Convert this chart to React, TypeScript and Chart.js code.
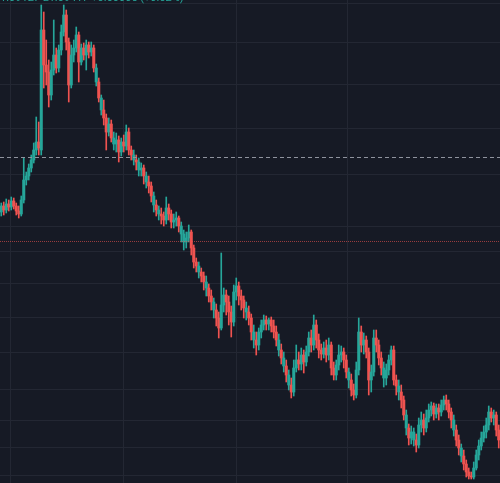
import React, { useEffect, useRef } from "react";
import { Chart, registerables } from "chart.js";

Chart.register(...registerables);

// OHLC candles (one per bar)
const opens = [
  1.0988,1.0994,1.0990,1.0996,1.0993,1.0999,1.0994,1.0989,1.0986,1.1000,
  1.1020,1.1024,1.1032,1.1040,1.1050,1.1058,1.1050,1.1170,1.1135,1.1128,
  1.1105,1.1130,1.1145,1.1132,1.1150,1.1168,1.1185,1.1158,1.1115,1.1145,
  1.1152,1.1165,1.1138,1.1152,1.1145,1.1155,1.1148,1.1152,1.1118,1.1118,
  1.1090,1.1090,1.1082,1.1068,1.1076,1.1056,1.1056,1.1060,1.1048,1.1058,
  1.1054,1.1068,1.1050,1.1040,1.1040,1.1030,1.1030,1.1032,1.1018,1.1018,
  1.1014,1.0995,1.0995,1.0986,1.0986,1.0984,1.0980,1.0992,1.0986,1.0978,
  1.0980,1.0982,1.0966,1.0958,1.0958,1.0962,1.0968,1.0952,1.0938,1.0928,
  1.0928,1.0924,1.0912,1.0912,1.0904,1.0890,1.0890,1.0882,1.0872,1.0895,
  1.0905,1.0898,1.0888,1.0878,1.0908,1.0914,1.0904,1.0900,1.0888,1.0888,
  1.0882,1.0860,1.0860,1.0855,1.0868,1.0875,1.0880,1.0876,1.0880,1.0874,
  1.0868,1.0850,1.0850,1.0834,1.0834,1.0815,1.0815,1.0808,1.0832,1.0840,
  1.0836,1.0845,1.0838,1.0848,1.0862,1.0855,1.0875,1.0860,1.0850,1.0846,
  1.0852,1.0845,1.0855,1.0832,1.0825,1.0835,1.0845,1.0848,1.0840,1.0820,
  1.0820,1.0810,1.0805,1.0830,1.0868,1.0855,1.0860,1.0848,1.0820,1.0828,
  1.0862,1.0855,1.0842,1.0822,1.0822,1.0830,1.0840,1.0850,1.0820,1.0808,
  1.0808,1.0800,1.0772,1.0772,1.0762,1.0760,1.0760,1.0755,1.0775,1.0780,
  1.0772,1.0782,1.0790,1.0794,1.0786,1.0792,1.0788,1.0795,1.0800,1.0796,
  1.0788,1.0770,1.0770,1.0760,1.0744,1.0744,1.0736,1.0728,1.0724,1.0723,
  1.0732,1.0745,1.0754,1.0762,1.0768,1.0775,1.0788,1.0782,1.0785,1.0770,
];

const highs = [
  1.0997,1.0998,1.1001,1.1000,1.1003,1.1002,1.0997,1.0994,1.1004,1.1042,
  1.1028,1.1036,1.1045,1.1057,1.1083,1.1078,1.1195,1.1188,1.1160,1.1140,
  1.1138,1.1180,1.1152,1.1155,1.1175,1.1195,1.1190,1.1162,1.1155,1.1160,
  1.1173,1.1168,1.1156,1.1157,1.1160,1.1158,1.1158,1.1155,1.1136,1.1122,
  1.1105,1.1100,1.1086,1.1082,1.1080,1.1068,1.1067,1.1064,1.1062,1.1065,
  1.1075,1.1072,1.1054,1.1050,1.1045,1.1042,1.1037,1.1035,1.1028,1.1024,
  1.1018,1.1008,1.1000,1.0994,1.0992,1.0988,1.1003,1.0996,1.0990,1.0986,
  1.0988,1.0984,1.0978,1.0970,1.0968,1.0975,1.0970,1.0955,1.0942,1.0938,
  1.0932,1.0928,1.0924,1.0916,1.0910,1.0902,1.0896,1.0888,1.0947,1.0912,
  1.0910,1.0904,1.0894,1.0915,1.0922,1.0918,1.0910,1.0904,1.0898,1.0894,
  1.0886,1.0875,1.0868,1.0872,1.0880,1.0885,1.0884,1.0882,1.0883,1.0880,
  1.0874,1.0866,1.0856,1.0848,1.0840,1.0830,1.0822,1.0840,1.0855,1.0848,
  1.0852,1.0850,1.0854,1.0868,1.0870,1.0885,1.0880,1.0866,1.0856,1.0858,
  1.0860,1.0862,1.0858,1.0838,1.0840,1.0855,1.0854,1.0852,1.0845,1.0832,
  1.0826,1.0816,1.0838,1.0882,1.0874,1.0867,1.0864,1.0852,1.0835,1.0870,
  1.0870,1.0860,1.0848,1.0838,1.0836,1.0845,1.0854,1.0854,1.0825,1.0820,
  1.0815,1.0804,1.0790,1.0776,1.0774,1.0772,1.0766,1.0782,1.0788,1.0786,
  1.0790,1.0796,1.0798,1.0797,1.0796,1.0796,1.0800,1.0804,1.0805,1.0800,
  1.0792,1.0785,1.0775,1.0765,1.0756,1.0750,1.0740,1.0732,1.0728,1.0738,
  1.0750,1.0760,1.0768,1.0774,1.0782,1.0794,1.0792,1.0790,1.0788,1.0775,
];

const lows = [
  1.0984,1.0985,1.0987,1.0989,1.0990,1.0991,1.0985,1.0982,1.0984,1.0997,
  1.1015,1.1020,1.1028,1.1037,1.1045,1.1045,1.1045,1.1112,1.1115,1.1093,
  1.1100,1.1125,1.1127,1.1128,1.1145,1.1164,1.1150,1.1098,1.1112,1.1138,
  1.1148,1.1118,1.1135,1.1140,1.1130,1.1142,1.1144,1.1128,1.1114,1.1098,
  1.1085,1.1075,1.1050,1.1064,1.1058,1.1050,1.1048,1.1038,1.1044,1.1048,
  1.1050,1.1045,1.1040,1.1035,1.1030,1.1024,1.1024,1.1016,1.1012,1.1007,
  1.0998,1.0988,1.0984,1.0980,1.0976,1.0974,1.0976,1.0980,1.0972,1.0972,
  1.0974,1.0968,1.0958,1.0950,1.0952,1.0958,1.0945,1.0932,1.0928,1.0922,
  1.0918,1.0910,1.0904,1.0898,1.0890,1.0882,1.0874,1.0862,1.0870,1.0888,
  1.0885,1.0875,1.0863,1.0874,1.0900,1.0895,1.0890,1.0882,1.0880,1.0875,
  1.0860,1.0852,1.0845,1.0850,1.0862,1.0870,1.0870,1.0870,1.0868,1.0862,
  1.0854,1.0844,1.0836,1.0828,1.0818,1.0810,1.0802,1.0804,1.0828,1.0830,
  1.0830,1.0827,1.0834,1.0844,1.0848,1.0850,1.0852,1.0842,1.0840,1.0842,
  1.0838,1.0840,1.0825,1.0820,1.0820,1.0830,1.0838,1.0832,1.0822,1.0812,
  1.0804,1.0800,1.0802,1.0825,1.0848,1.0846,1.0842,1.0805,1.0808,1.0824,
  1.0848,1.0835,1.0825,1.0813,1.0815,1.0825,1.0835,1.0815,1.0805,1.0800,
  1.0792,1.0780,1.0765,1.0755,1.0756,1.0754,1.0748,1.0752,1.0768,1.0765,
  1.0768,1.0778,1.0784,1.0780,1.0782,1.0780,1.0784,1.0790,1.0790,1.0782,
  1.0772,1.0764,1.0754,1.0745,1.0738,1.0730,1.0723,1.0721,1.0721,1.0721,
  1.0730,1.0740,1.0750,1.0758,1.0762,1.0770,1.0778,1.0775,1.0764,1.0752,
];

const closes = [
  1.0994,1.0990,1.0996,1.0993,1.0999,1.0994,1.0989,1.0986,1.1000,1.1020,
  1.1024,1.1032,1.1040,1.1050,1.1058,1.1052,1.1170,1.1135,1.1128,1.1105,
  1.1130,1.1145,1.1132,1.1150,1.1168,1.1185,1.1158,1.1115,1.1145,1.1152,
  1.1165,1.1138,1.1152,1.1145,1.1155,1.1148,1.1152,1.1132,1.1132,1.1102,
  1.1102,1.1082,1.1068,1.1076,1.1062,1.1062,1.1060,1.1048,1.1058,1.1054,
  1.1068,1.1050,1.1045,1.1045,1.1038,1.1038,1.1032,1.1024,1.1024,1.1014,
  1.1004,1.1004,1.0990,1.0990,1.0984,1.0980,1.0992,1.0986,1.0978,1.0980,
  1.0982,1.0974,1.0974,1.0966,1.0962,1.0968,1.0952,1.0938,1.0934,1.0934,
  1.0924,1.0918,1.0918,1.0904,1.0898,1.0898,1.0882,1.0872,1.0895,1.0905,
  1.0898,1.0888,1.0878,1.0908,1.0914,1.0904,1.0900,1.0892,1.0892,1.0882,
  1.0868,1.0868,1.0855,1.0868,1.0875,1.0880,1.0876,1.0880,1.0874,1.0868,
  1.0860,1.0860,1.0842,1.0842,1.0825,1.0825,1.0808,1.0832,1.0840,1.0836,
  1.0845,1.0838,1.0848,1.0862,1.0855,1.0875,1.0860,1.0850,1.0846,1.0852,
  1.0845,1.0855,1.0832,1.0825,1.0835,1.0845,1.0848,1.0840,1.0828,1.0828,
  1.0810,1.0805,1.0830,1.0868,1.0855,1.0860,1.0848,1.0820,1.0828,1.0862,
  1.0855,1.0842,1.0832,1.0832,1.0830,1.0840,1.0850,1.0820,1.0814,1.0814,
  1.0800,1.0785,1.0785,1.0762,1.0768,1.0768,1.0755,1.0775,1.0780,1.0772,
  1.0782,1.0790,1.0794,1.0786,1.0792,1.0788,1.0795,1.0800,1.0796,1.0788,
  1.0780,1.0780,1.0760,1.0752,1.0752,1.0736,1.0728,1.0724,1.0723,1.0732,
  1.0745,1.0754,1.0762,1.0768,1.0775,1.0788,1.0782,1.0785,1.0770,1.0760,
];

// grid positions (time ticks in bar index, price ticks)
const timeTicks = [26.3, 71.5, 116.3, 160.7];
const priceTicks = [
  1.1197, 1.1158, 1.1116, 1.1072, 1.1026, 1.0974, 1.0949, 1.0917,
  1.0883, 1.0848, 1.0811, 1.0780, 1.0753, 1.0725,
];
const priceMin = 1.0717;
const priceMax = 1.12;

// horizontal price lines
const dashedLevel = 1.1043;
const dottedLevel = 1.0959;

const legendText = "1.09127 L1.09417 +0.00005 (+0.02%)";

const UP = "#26a69a";
const DOWN = "#ef5350";
const BG = "#161a25";
const GRID = "#232733";

export default function App() {
  const ref = useRef<HTMLCanvasElement | null>(null);

  useEffect(() => {
    if (!ref.current) return;
    const n = opens.length;
    const colors = opens.map((o, i) => (closes[i] >= o ? UP : DOWN));
    const bodies = opens.map((o, i) => ({ x: i, y: [o, closes[i]] }));
    const wicks = highs.map((h, i) => ({ x: i, y: [lows[i], h] }));

    const linesPlugin = {
      id: "priceLines",
      afterDatasetsDraw(chart: any) {
        const { ctx, chartArea, scales } = chart;
        ctx.save();
        ctx.lineWidth = 1;
        let y = Math.round(scales.y.getPixelForValue(dashedLevel)) + 0.5;
        ctx.strokeStyle = "#8f939e";
        ctx.setLineDash([4, 3]);
        ctx.beginPath();
        ctx.moveTo(chartArea.left, y);
        ctx.lineTo(chartArea.right, y);
        ctx.stroke();
        y = Math.round(scales.y.getPixelForValue(dottedLevel)) + 0.5;
        ctx.strokeStyle = "rgba(239,83,80,0.6)";
        ctx.setLineDash([1, 1]);
        ctx.beginPath();
        ctx.moveTo(chartArea.left, y);
        ctx.lineTo(chartArea.right, y);
        ctx.stroke();
        ctx.restore();
      },
    };

    const chart = new Chart(ref.current, {
      type: "bar",
      data: {
        datasets: [
          {
            data: bodies as any,
            backgroundColor: colors,
            barThickness: 2.4,
            minBarLength: 1,
            grouped: false,
            borderWidth: 0,
          } as any,
          {
            data: wicks as any,
            backgroundColor: colors,
            barThickness: 1,
            grouped: false,
            borderWidth: 0,
          } as any,
        ],
      },
      options: {
        responsive: false,
        maintainAspectRatio: false,
        devicePixelRatio: 1,
        animation: false,
        layout: { padding: 0 },
        plugins: {
          legend: { display: false },
          tooltip: { enabled: false },
          title: { display: false },
        },
        scales: {
          x: {
            type: "linear",
            min: -0.5,
            max: n - 0.5,
            offset: false,
            afterBuildTicks: (axis: any) => {
              axis.ticks = timeTicks.map((v) => ({ value: v }));
            },
            ticks: { display: false },
            grid: {
              color: (c: any) =>
                c.tick && timeTicks.includes(c.tick.value) ? GRID : "rgba(0,0,0,0)",
              drawTicks: false,
              lineWidth: 1,
            },
            border: { display: false },
          },
          y: {
            type: "linear",
            min: priceMin,
            max: priceMax,
            afterBuildTicks: (axis: any) => {
              axis.ticks = priceTicks.map((v) => ({ value: v }));
            },
            ticks: { display: false },
            grid: {
              color: (c: any) =>
                c.tick && priceTicks.includes(c.tick.value) ? GRID : "rgba(0,0,0,0)",
              drawTicks: false,
              lineWidth: 1,
            },
            border: { display: false },
          },
        },
      },
      plugins: [linesPlugin],
    });
    return () => chart.destroy();
  }, []);

  return (
    <div
      style={{
        position: "absolute",
        left: 0,
        top: 0,
        width: 500,
        height: 483,
        background: BG,
        overflow: "hidden",
      }}
    >
      <canvas ref={ref} width={500} height={483} style={{ display: "block" }} />
      <div
        style={{
          position: "absolute",
          left: 0,
          top: -9,
          fontFamily: "Roboto, sans-serif",
          fontSize: 11,
          lineHeight: "13px",
          color: UP,
          whiteSpace: "nowrap",
        }}
      >
        {legendText}
      </div>
    </div>
  );
}
